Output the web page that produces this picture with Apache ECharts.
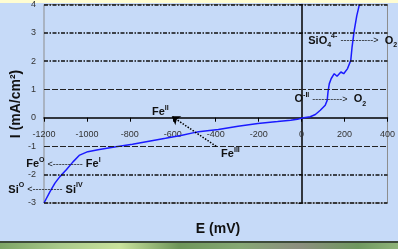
<!DOCTYPE html>
<html>
<head>
<meta charset="utf-8">
<style>
  html, body { margin: 0; padding: 0; background: #c6daf8; }
  #chart { width: 398px; height: 249px; }
</style>
<script src="https://cdn.jsdelivr.net/npm/echarts@6/dist/echarts.min.js"></script>
</head>
<body>
<div id="chart"></div>
<script>
// polarisation curve, E in mV, I in mA/cm2
const potential = [-1200, -1172, -1149, -1126, -1095, -1065, -1034, -996, -942, -865, -788, -711, -634, -557, -496,
  -480, -388, -296, -204, -112, -51, -20, 3, 40, 64, 87, 110, 119, 123, 129, 138, 152, 165, 183, 196, 214, 229, 235, 245, 257, 268, 271]
const current = [-3.0, -2.6, -2.3, -2.07, -1.82, -1.55, -1.31, -1.19, -1.11, -1.02, -0.93, -0.82, -0.72, -0.61, -0.51,
  -0.49, -0.41, -0.29, -0.2, -0.13, -0.08, -0.05, 0.0, 0.04, 0.12, 0.27, 0.45, 0.62, 0.92, 1.21, 1.39, 1.56, 1.47, 1.62, 1.56, 1.74, 2.03, 2.5, 3.08, 3.61, 3.96, 4.0]

const xMin = -1200
const xMax = 400
const yMin = -3
const yMax = 4

const heavyLevels = [4, 3, 2, -2, -3]
const lightLevels = [1, -1]

// dotted arrow Fe(III) -> Fe(II), in data units
const arrowFrom = [-398, -1.0]
const arrowTo = [-605, 0.06]

// text notes, anchored at their left/middle point in data units
const notes = [
  { text: '{m|Fe}{sup|II}', at: [-697, 0.2] },
  { text: '{m|Fe}{sup|III}', at: [-375, -1.28] },
  { text: '{m|Fe}{sup|O} {arr|<----------} {m|Fe}{sup|I}', at: [-1283, -1.63] },
  { text: '{m|Si}{sup|O} {arr|<----------} {m|Si}{sup|IV}', at: [-1366, -2.54] },
  { text: '{m|SiO}{sub|4}{sup|4-} {arr|----------->}  {m|O}{sub|2}', at: [31, 2.73] },
  { text: '{m|O}{sup|-II} {arr|---------->}  {m|O}{sub|2}', at: [-33, 0.66] }
]

const fontFamily = '"Liberation Sans", Arial, sans-serif'

const chartDom = document.getElementById('chart')
const myChart = echarts.init(chartDom, null, { renderer: 'canvas' })

const gridTop = 4
const gridBottom = 46
const plotHeight = 249 - gridTop - gridBottom
// move the x axis (line, ticks and labels) up to I = 0
const xAxisOffset = -plotHeight * (0 - yMin) / (yMax - yMin)

const heavyStyle = { color: '#111', width: 1.6, type: [4, 1.5, 1.5, 1.5] }
const lightStyle = { color: '#222', width: 1, type: [6, 2] }

const options = {
  backgroundColor: '#c6daf8',
  animation: false,
  grid: {
    left: 44,
    right: 7,
    top: gridTop,
    bottom: gridBottom,
    show: true,
    borderColor: '#8c8c8c',
    borderWidth: 1
  },
  xAxis: {
    type: 'value',
    min: xMin,
    max: xMax,
    interval: 200,
    offset: xAxisOffset,
    axisLine: { onZero: false, lineStyle: { color: '#000', width: 1.5 } },
    axisTick: { length: 4, lineStyle: { color: '#000' } },
    axisLabel: { margin: 12, fontSize: 9, color: '#333', fontFamily: fontFamily, formatter: v => String(v) },
    splitLine: { show: false }
  },
  yAxis: {
    type: 'value',
    min: yMin,
    max: yMax,
    interval: 1,
    axisLine: { onZero: true, lineStyle: { color: '#000', width: 1.5 } },
    axisTick: { length: 3, lineStyle: { color: '#000' } },
    axisLabel: { margin: 8, fontSize: 9, color: '#333', fontFamily: fontFamily },
    splitLine: { show: false }
  },
  series: [
    {
      name: 'I',
      type: 'line',
      data: potential.map((e, i) => [e, current[i]]),
      showSymbol: false,
      z: 3,
      lineStyle: { color: '#1a1aff', width: 1.5 },
      markLine: {
        silent: true,
        symbol: 'none',
        label: { show: false },
        animation: false,
        data: heavyLevels.map(v => ({ yAxis: v, lineStyle: heavyStyle }))
          .concat(lightLevels.map(v => ({ yAxis: v, lineStyle: lightStyle })))
      }
    },
    {
      name: 'arrow',
      type: 'line',
      data: [],
      markLine: {
        silent: true,
        symbol: ['none', 'arrow'],
        symbolSize: 8,
        label: { show: false },
        animation: false,
        lineStyle: { color: '#000', width: 1.5, type: 'dotted' },
        data: [[{ coord: arrowFrom }, { coord: arrowTo }]]
      }
    }
  ]
}

myChart.setOption(options)

const rich = {
  m: { fontSize: 11, fontWeight: 'bold', fill: '#111', fontFamily: fontFamily, lineHeight: 16 },
  sup: { fontSize: 7, fontWeight: 'bold', fill: '#111', fontFamily: fontFamily, lineHeight: 6, verticalAlign: 'top' },
  sub: { fontSize: 7, fontWeight: 'bold', fill: '#111', fontFamily: fontFamily, lineHeight: 6, verticalAlign: 'bottom' },
  arr: { fontSize: 9, fill: '#111', fontFamily: fontFamily, lineHeight: 16 }
}

const noteElements = notes.map(n => {
  const p = myChart.convertToPixel({ gridIndex: 0 }, n.at)
  return {
    type: 'text',
    x: p[0],
    y: p[1],
    silent: true,
    z: 10,
    style: { text: n.text, rich: rich, align: 'left', verticalAlign: 'middle', fontSize: 11, fontFamily: fontFamily }
  }
})

myChart.setOption({
  graphic: [
    { type: 'rect', left: 0, top: 0, silent: true, shape: { width: 398, height: 3 }, style: { fill: '#fffdd2' } },
    { type: 'rect', left: 0, top: 241, silent: true, shape: { width: 398, height: 2 }, style: { fill: '#3d4a3a' } },
    {
      type: 'rect', left: 0, top: 243, silent: true, shape: { width: 398, height: 6 },
      style: {
        fill: new echarts.graphic.LinearGradient(0, 0, 1, 0, [
          { offset: 0, color: '#7da466' },
          { offset: 0.15, color: '#a9c98a' },
          { offset: 0.3, color: '#c9e29c' },
          { offset: 0.45, color: '#6e955a' },
          { offset: 0.6, color: '#86a874' },
          { offset: 0.75, color: '#8d8f80' },
          { offset: 0.9, color: '#6f9860' },
          { offset: 1, color: '#8fb47a' }
        ])
      }
    },
    {
      type: 'text', x: 16, y: 104, rotation: Math.PI / 2, silent: true,
      style: { text: 'I (mA/cm²)', align: 'center', verticalAlign: 'middle', fontSize: 14, fontWeight: 'bold', fill: '#111', fontFamily: fontFamily }
    },
    {
      type: 'text', x: 218, y: 229, silent: true,
      style: { text: 'E (mV)', align: 'center', verticalAlign: 'middle', fontSize: 14, fontWeight: 'bold', fill: '#111', fontFamily: fontFamily }
    }
  ].concat(noteElements)
})

window.addEventListener('resize', function() {
  myChart.resize()
})
</script>
</body>
</html>
